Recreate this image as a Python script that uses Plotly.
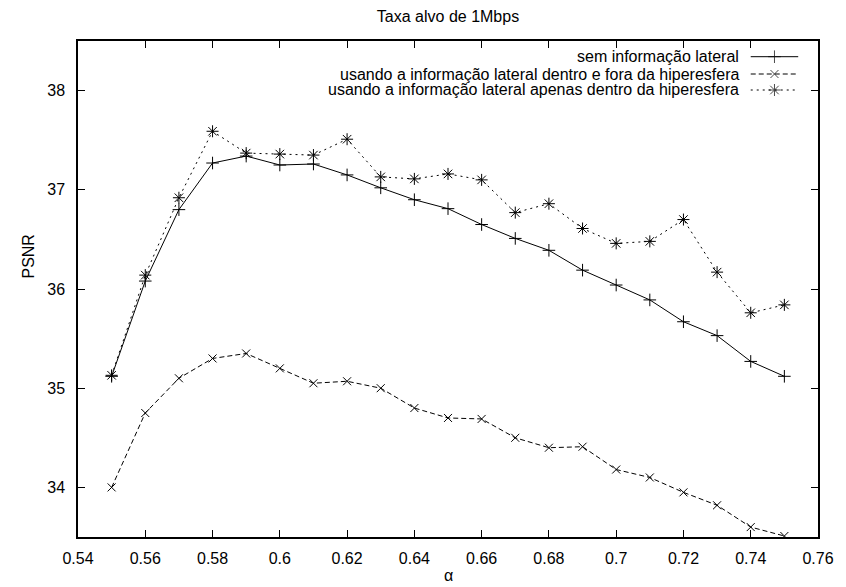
import plotly.graph_objects as go

alpha = [0.55, 0.56, 0.57, 0.58, 0.59, 0.60, 0.61, 0.62, 0.63, 0.64, 0.65,
         0.66, 0.67, 0.68, 0.69, 0.70, 0.71, 0.72, 0.73, 0.74, 0.75]

sem_info = [35.12, 36.08, 36.80, 37.27, 37.34, 37.25, 37.26, 37.15, 37.02, 36.90, 36.81,
            36.65, 36.51, 36.39, 36.19, 36.04, 35.89, 35.67, 35.53, 35.27, 35.12]

dentro_fora = [34.00, 34.75, 35.10, 35.30, 35.35, 35.20, 35.05, 35.07, 35.00, 34.80, 34.70,
               34.69, 34.50, 34.40, 34.41, 34.18, 34.10, 33.95, 33.82, 33.60, 33.51]

apenas_dentro = [35.13, 36.14, 36.92, 37.59, 37.37, 37.36, 37.35, 37.51, 37.13, 37.11, 37.16,
                 37.10, 36.77, 36.86, 36.61, 36.46, 36.48, 36.70, 36.17, 35.76, 35.84]

series_names = [
    "sem informação lateral",
    "usando a informação lateral dentro e fora da hiperesfera",
    "usando a informação lateral apenas dentro da hiperesfera",
]

x_ticks = [0.54, 0.56, 0.58, 0.60, 0.62, 0.64, 0.66, 0.68, 0.70, 0.72, 0.74, 0.76]
x_tick_labels = ["0.54", "0.56", "0.58", "0.6", "0.62", "0.64", "0.66", "0.68", "0.7", "0.72", "0.74", "0.76"]
y_ticks = [34, 35, 36, 37, 38]
y_tick_labels = ["34", "35", "36", "37", "38"]

FONT = "Liberation Sans, Arial, sans-serif"
W, H = 846, 587
L, R, T, B = 78, 20, 41, 50
PW, PH = W - L - R, H - T - B

styles = [
    dict(dash="solid", symbol="cross-thin", size=9),
    dict(dash="5px,3px", symbol="x-thin", size=8),
    dict(dash="2px,4px", symbol="asterisk", size=10),
]
data = [sem_info, dentro_fora, apenas_dentro]

fig = go.Figure()
for ys, st, nm in zip(data, styles, series_names):
    fig.add_trace(go.Scatter(
        x=alpha, y=ys, mode="lines+markers", name=nm, showlegend=False,
        line=dict(color="black", width=1, dash=st["dash"]),
        marker=dict(symbol=st["symbol"], size=st["size"], color="black",
                    line=dict(color="black", width=1)),
    ))

# custom gnuplot-style key (text left, sample right)
row_px = [56.7, 74.0, 90.0]
text_right = (748 - L) / PW
s0, s1 = (758 - L) / PW, (806 - L) / PW
for ry, st, nm in zip(row_px, styles, series_names):
    yp = (H - B - ry) / PH
    fig.add_trace(go.Scatter(
        x=[s0, (s0 + s1) / 2, s1], y=[yp, yp, yp], xaxis="x2", yaxis="y2",
        mode="lines+markers", showlegend=False, hoverinfo="skip",
        line=dict(color="black", width=1, dash=st["dash"]),
        marker=dict(symbol=st["symbol"], size=[0, st["size"], 0], color="black",
                    line=dict(color="black", width=1)),
    ))
    fig.add_annotation(x=text_right, y=yp, xref="paper", yref="paper",
                       text=nm, showarrow=False, xanchor="right", yanchor="middle",
                       font=dict(family=FONT, size=16, color="black"))

fig.add_annotation(x=(27 - L) / PW, y=(H - B - 257) / PH, xref="paper", yref="paper",
                   text="PSNR", textangle=-90, showarrow=False,
                   xanchor="center", yanchor="middle",
                   font=dict(family=FONT, size=16, color="black"))
fig.add_annotation(x=0.5, y=(H - B - 575) / PH, xref="paper", yref="paper",
                   text="α", showarrow=False, xanchor="center", yanchor="middle",
                   font=dict(family=FONT, size=16, color="black"))

axis_common = dict(showgrid=False, zeroline=False, showline=True, linecolor="black",
                   linewidth=1.5, mirror="ticks", ticks="inside", ticklen=7,
                   tickcolor="black", tickwidth=1,
                   tickfont=dict(family=FONT, size=16, color="black"))

fig.update_layout(
    width=W, height=H,
    margin=dict(l=L, r=R, t=T, b=B),
    paper_bgcolor="white", plot_bgcolor="white",
    font=dict(family=FONT, size=16, color="black"),
    title=dict(text="Taxa alvo de 1Mbps", x=0.5, xref="paper", xanchor="center",
               y=1 - 16.7 / H, yref="container", yanchor="middle",
               font=dict(family=FONT, size=16, color="black")),
    xaxis=dict(range=[0.54, 0.76], tickvals=x_ticks, ticktext=x_tick_labels,
               ticklabelstandoff=6, **axis_common),
    yaxis=dict(range=[33.5, 38.5], tickvals=y_ticks, ticktext=y_tick_labels,
               ticklabelstandoff=8, **axis_common),
    xaxis2=dict(range=[0, 1], overlaying="x", visible=False, fixedrange=True),
    yaxis2=dict(range=[0, 1], overlaying="y", visible=False, fixedrange=True),
    showlegend=False,
)

fig.write_html("out.html")
